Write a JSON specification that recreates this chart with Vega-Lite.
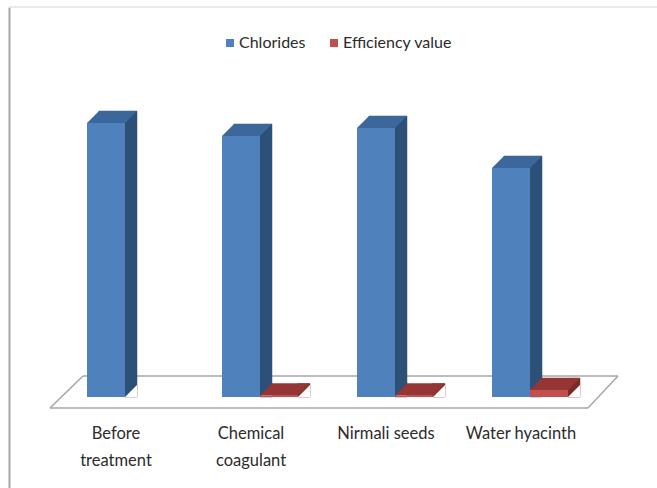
{
  "$schema": "https://vega.github.io/schema/vega-lite/v6.json",
  "width": 648,
  "height": 481,
  "autosize": {"type": "none"},
  "padding": {"left": 9, "top": 7, "right": 0, "bottom": 0},
  "background": "white",
  "config": {
    "view": {"stroke": null},
    "font": "Lato",
    "axisX": {"domain": false, "ticks": false, "grid": false, "labelFontSize": 16.5, "labelColor": "#2b2b2b", "labelAngle": 0, "labelLineHeight": 27, "labelPadding": 10, "offset": -73, "labelFont": "Lato"},
    "axisY": {"labels": false, "ticks": false, "grid": false, "domain": true, "domainColor": "#a6a6a6", "domainWidth": 2}
  },
  "layer": [
    {
      "data": {"values": [{}]},
      "mark": {"type": "rule", "color": "#e3e3e3", "strokeWidth": 1.5},
      "encoding": {"y": {"datum": 390}}
    },
    {
      "data": {"values": [{}]},
      "mark": {"type": "rule", "color": "#a6a6a6", "strokeWidth": 1.5, "xOffset": -66, "x2Offset": 67},
      "encoding": {"x": {"datum": "Before treatment"}, "x2": {"datum": "Water hyacinth"}, "y": {"datum": -11}, "y2": {"datum": -11}}
    },
    {
      "data": {"values": [{}]},
      "mark": {"type": "rule", "color": "#a6a6a6", "strokeWidth": 1.5, "xOffset": -33, "x2Offset": 97},
      "encoding": {"x": {"datum": "Before treatment"}, "x2": {"datum": "Water hyacinth"}, "y": {"datum": 21}, "y2": {"datum": 21}}
    },
    {
      "data": {"values": [{}]},
      "mark": {"type": "rule", "color": "#a6a6a6", "strokeWidth": 1.5, "xOffset": -66, "x2Offset": -33},
      "encoding": {"x": {"datum": "Before treatment"}, "x2": {"datum": "Before treatment"}, "y": {"datum": -11}, "y2": {"datum": 21}}
    },
    {
      "data": {"values": [{}]},
      "mark": {"type": "rule", "color": "#a6a6a6", "strokeWidth": 1.5, "xOffset": 67, "x2Offset": 97},
      "encoding": {"x": {"datum": "Water hyacinth"}, "x2": {"datum": "Water hyacinth"}, "y": {"datum": -11}, "y2": {"datum": 21}}
    },
    {
      "data": {"values": [
        {"category": "Before treatment", "series": "Chlorides", "value": 274},
        {"category": "Chemical coagulant", "series": "Chlorides", "value": 261},
        {"category": "Nirmali seeds", "series": "Chlorides", "value": 269},
        {"category": "Water hyacinth", "series": "Chlorides", "value": 229},
        {"category": "Before treatment", "series": "Efficiency value", "value": null},
        {"category": "Chemical coagulant", "series": "Efficiency value", "value": 1.5},
        {"category": "Nirmali seeds", "series": "Efficiency value", "value": 1.5},
        {"category": "Water hyacinth", "series": "Efficiency value", "value": 7}
      ]},
      "transform": [{"filter": "isValid(datum.value)"}],
      "encoding": {
        "x": {
          "field": "category", "type": "nominal", "title": null,
          "scale": {"domain": ["Before treatment", "Chemical coagulant", "Nirmali seeds", "Water hyacinth"], "paddingInner": 0, "paddingOuter": 0.4, "align": 0.3657},
          "axis": {"labelExpr": "datum.label == 'Before treatment' ? ['Before', 'treatment'] : datum.label == 'Chemical coagulant' ? ['Chemical', 'coagulant'] : datum.label"}
        }
      },
      "layer": [
        {
          "transform": [{"filter": "datum.series == 'Chlorides'"}],
          "mark": {"type": "bar", "width": 12, "xOffset": 15, "yOffset": -12, "color": "#2d5079", "stroke": "#2d5079", "strokeWidth": 0.5},
          "encoding": {"y": {"field": "value", "type": "quantitative", "title": null, "scale": {"domain": [-91, 390], "nice": false, "zero": false}}, "y2": {"datum": 0}}
        },
        {
          "transform": [{"filter": "datum.series == 'Chlorides'"}],
          "mark": {"type": "point", "shape": "M-1,1L1,-1L1,1Z", "size": 144, "filled": true, "opacity": 1, "color": "white", "strokeWidth": 0, "xOffset": 15, "yOffset": -6},
          "encoding": {"y": {"datum": 0}}
        },
        {
          "transform": [{"filter": "datum.series == 'Chlorides'"}],
          "mark": {"type": "bar", "width": 26, "xOffset": -4, "yOffset": -12, "color": "#3c679a", "stroke": "#3c679a", "strokeWidth": 0.5},
          "encoding": {"y": {"field": "value", "type": "quantitative", "title": null}, "y2": {"field": "value"}}
        },
        {
          "transform": [{"filter": "datum.series == 'Chlorides'"}],
          "mark": {"type": "point", "shape": "M-1,1L1,-1L1,1Z", "size": 144, "filled": true, "opacity": 1, "color": "#3c679a", "strokeWidth": 0, "xOffset": -23, "yOffset": -6},
          "encoding": {"y": {"field": "value", "type": "quantitative", "title": null}}
        },
        {
          "transform": [{"filter": "datum.series == 'Chlorides'"}],
          "mark": {"type": "point", "shape": "M-1,-1L1,-1L-1,1Z", "size": 144, "filled": true, "opacity": 1, "color": "#3c679a", "strokeWidth": 0, "xOffset": 15, "yOffset": -6},
          "encoding": {"y": {"field": "value", "type": "quantitative", "title": null}}
        },
        {
          "transform": [{"filter": "datum.series == 'Chlorides'"}],
          "mark": {"type": "bar", "width": 38, "xOffset": -10},
          "encoding": {
            "y": {"field": "value", "type": "quantitative", "title": null},
            "y2": {"datum": 0},
            "color": {
              "field": "series", "type": "nominal",
              "scale": {"domain": ["Chlorides", "Efficiency value"], "range": ["#4f81bd", "#c0504d"]},
              "legend": {"orient": "none", "legendX": 213, "legendY": 28, "direction": "horizontal", "title": null, "symbolType": "square", "symbolSize": 64, "symbolStrokeWidth": 0, "labelFontSize": 16, "labelColor": "#2b2b2b", "labelFont": "Lato", "columnPadding": 20, "labelOffset": 1, "padding": 0}
            }
          }
        },
        {
          "transform": [{"filter": "datum.series == 'Efficiency value'"}],
          "mark": {"type": "bar", "width": 12, "xOffset": 53, "yOffset": -12, "color": "#7a2b29", "stroke": "#7a2b29", "strokeWidth": 0.5},
          "encoding": {"y": {"field": "value", "type": "quantitative", "title": null}, "y2": {"datum": 0}}
        },
        {
          "transform": [{"filter": "datum.series == 'Efficiency value'"}],
          "mark": {"type": "point", "shape": "M-1,1L1,-1L1,1Z", "size": 144, "filled": true, "opacity": 1, "color": "white", "strokeWidth": 0, "xOffset": 53, "yOffset": -6},
          "encoding": {"y": {"datum": 0}}
        },
        {
          "transform": [{"filter": "datum.series == 'Efficiency value'"}],
          "mark": {"type": "bar", "width": 26, "xOffset": 34, "yOffset": -12, "color": "#963634", "stroke": "#963634", "strokeWidth": 0.5},
          "encoding": {"y": {"field": "value", "type": "quantitative", "title": null}, "y2": {"field": "value"}}
        },
        {
          "transform": [{"filter": "datum.series == 'Efficiency value'"}],
          "mark": {"type": "point", "shape": "M-1,1L1,-1L1,1Z", "size": 144, "filled": true, "opacity": 1, "color": "#963634", "strokeWidth": 0, "xOffset": 15, "yOffset": -6},
          "encoding": {"y": {"field": "value", "type": "quantitative", "title": null}}
        },
        {
          "transform": [{"filter": "datum.series == 'Efficiency value'"}],
          "mark": {"type": "point", "shape": "M-1,-1L1,-1L-1,1Z", "size": 144, "filled": true, "opacity": 1, "color": "#963634", "strokeWidth": 0, "xOffset": 53, "yOffset": -6},
          "encoding": {"y": {"field": "value", "type": "quantitative", "title": null}}
        },
        {
          "transform": [{"filter": "datum.series == 'Efficiency value'"}],
          "mark": {"type": "bar", "width": 38, "xOffset": 28},
          "encoding": {
            "y": {"field": "value", "type": "quantitative", "title": null},
            "y2": {"datum": 0},
            "color": {"field": "series", "type": "nominal"}
          }
        }
      ]
    }
  ]
}
